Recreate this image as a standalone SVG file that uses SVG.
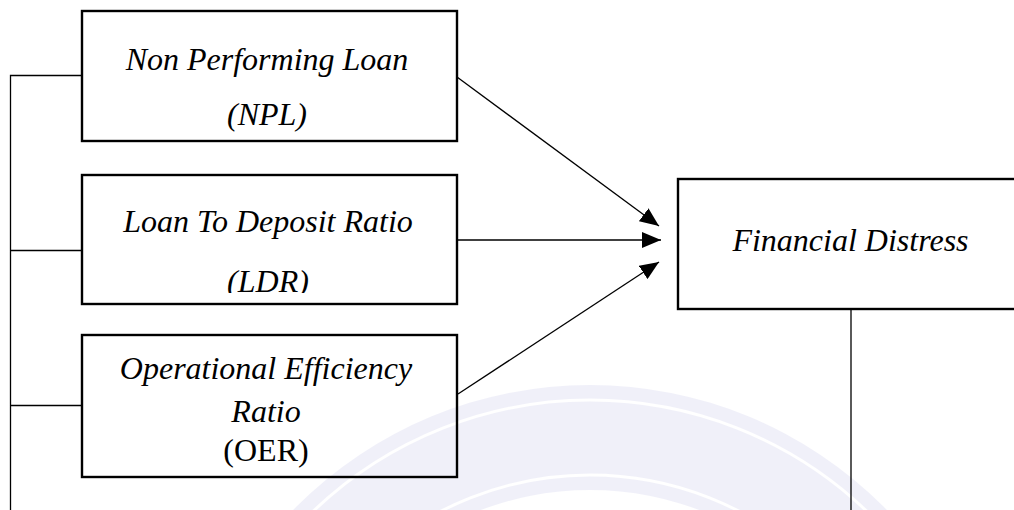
<svg xmlns="http://www.w3.org/2000/svg" width="1014" height="510" viewBox="0 0 1014 510">
<style>
.box{fill:none;stroke:#000;stroke-width:2.4}
.ln{fill:none;stroke:#000;stroke-width:1.3}
text{font-family:'Liberation Serif','Times New Roman',Tinos,Times,'DejaVu Serif',serif;font-size:32px;fill:#000;text-anchor:middle}
.i{font-style:italic}
</style>
<defs>
<marker id="ah" markerUnits="userSpaceOnUse" markerWidth="20" markerHeight="16" refX="19" refY="8" orient="auto">
<path d="M0,0 L19,8 L0,16 Z" fill="#000"/>
</marker>
<clipPath id="c2"><rect x="82" y="175" width="375" height="118"/></clipPath>
</defs>
<rect width="1014" height="510" fill="#fff"/>
<g id="watermark" opacity="0.35">
<path d="M175,800 A415,415 0 0 1 1005,800 L900,800 A310,310 0 0 0 280,800 Z" fill="#d6d6f0"/>
<circle cx="590" cy="800" r="400" fill="none" stroke="#fff" stroke-width="3"/>
<circle cx="590" cy="800" r="325" fill="none" stroke="#fff" stroke-width="3"/>
</g>
<g id="connectors">
<path class="ln" d="M10.5,510 V75.5 H82 M10.5,250.5 H82 M10.5,405.5 H82"/>
<path class="ln" d="M851,309 V510"/>
<line class="ln" x1="457" y1="77" x2="659" y2="226" marker-end="url(#ah)"/>
<line class="ln" x1="457" y1="240" x2="661" y2="240" marker-end="url(#ah)"/>
<line class="ln" x1="458" y1="394" x2="659" y2="262" marker-end="url(#ah)"/>
</g>
<g id="npl">
<rect class="box" x="82" y="11" width="375" height="130"/>
<text class="i" x="267" y="70">Non Performing Loan</text>
<text class="i" x="267" y="125">(NPL)</text>
</g>
<g id="ldr">
<rect class="box" x="82" y="175" width="375" height="129"/>
<text class="i" x="268" y="231.5">Loan To Deposit Ratio</text>
<text class="i" x="268" y="291.5" clip-path="url(#c2)">(LDR)</text>
</g>
<g id="oer">
<rect class="box" x="82" y="335" width="375" height="142"/>
<text class="i" x="266" y="379">Operational Efficiency</text>
<text class="i" x="266" y="421.5">Ratio</text>
<text x="266" y="460.5">(OER)</text>
</g>
<g id="fd">
<rect class="box" x="678" y="179" width="345" height="130"/>
<text class="i" x="850.5" y="250.5">Financial Distress</text>
</g>
</svg>
